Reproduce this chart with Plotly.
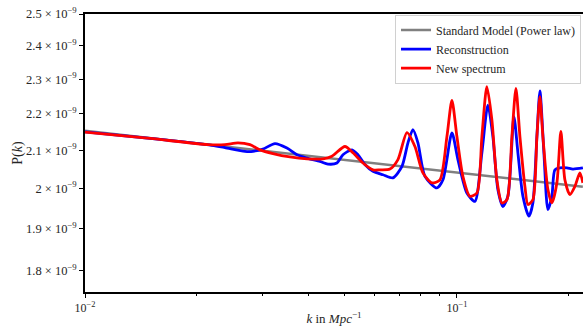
import plotly.graph_objects as go

# Data (P in units of 1e-9)
k_blue = [0.0100, 0.01495, 0.02195, 0.02378, 0.02692, 0.02829, 0.03009, 0.03242, 0.03491, 0.03715,
          0.03952, 0.04282, 0.04500, 0.04758, 0.04938, 0.05221, 0.05418, 0.05658, 0.05946, 0.06325,
          0.06730, 0.07115, 0.07385, 0.07616, 0.07856, 0.08204, 0.08837, 0.09172, 0.09696, 0.10062,
          0.10638, 0.11177, 0.11672, 0.12113, 0.12494, 0.12885, 0.13295, 0.13712, 0.14231, 0.14588,
          0.15046, 0.15615, 0.16005, 0.16408, 0.16715, 0.17135, 0.17564, 0.18004, 0.18340, 0.18916,
          0.19756, 0.20502, 0.21813]
p_blue = [2.150, 2.132, 2.113, 2.107, 2.097, 2.097, 2.103, 2.118, 2.106, 2.088,
          2.079, 2.070, 2.063, 2.066, 2.088, 2.101, 2.088, 2.062, 2.044, 2.035,
          2.027, 2.057, 2.120, 2.156, 2.120, 2.031, 2.001, 2.022, 2.147, 2.075,
          1.988, 1.967, 2.093, 2.225, 2.137, 1.997, 1.954, 1.980, 2.192, 2.093,
          1.980, 1.930, 1.963, 2.137, 2.266, 2.093, 1.946, 1.980, 2.048, 2.053,
          2.053, 2.050, 2.053]

k_red = [0.0100, 0.01495, 0.02141, 0.02378, 0.02578, 0.02777, 0.02954, 0.03202, 0.03557, 0.03952,
         0.04363, 0.04613, 0.05000, 0.05253, 0.05589, 0.05946, 0.06209, 0.06605, 0.06941, 0.07339,
         0.07711, 0.08103, 0.08567, 0.09003, 0.09400, 0.09696, 0.10000, 0.10377, 0.10837, 0.11317,
         0.11672, 0.12038, 0.12417, 0.12805, 0.13213, 0.13628, 0.14055, 0.14409, 0.14770, 0.15234,
         0.15520, 0.16005, 0.16408, 0.16715, 0.17029, 0.17564, 0.18004, 0.18569, 0.19034, 0.19511,
         0.20126, 0.20758, 0.21410, 0.21813]
p_red = [2.149, 2.132, 2.115, 2.115, 2.120, 2.115, 2.101, 2.091, 2.082, 2.077,
         2.077, 2.084, 2.110, 2.093, 2.066, 2.048, 2.048, 2.050, 2.075, 2.148,
         2.110, 2.040, 2.014, 2.022, 2.137, 2.238, 2.137, 2.031, 1.980, 1.988,
         2.137, 2.278, 2.183, 2.022, 1.963, 1.971, 2.137, 2.273, 2.137, 2.005,
         1.959, 1.971, 2.137, 2.249, 2.137, 1.997, 1.963, 2.014, 2.151, 2.022,
         1.984, 2.005, 2.040, 2.014]

k_std = [0.0100, 0.2181]
p_std = [2.153, 2.004]

y_ticks = [1.8, 1.9, 2.0, 2.1, 2.2, 2.3, 2.4, 2.5]
y_ticklabels = ["1.8 × 10<sup>−9</sup>", "1.9 × 10<sup>−9</sup>", "2 × 10<sup>−9</sup>",
                "2.1 × 10<sup>−9</sup>", "2.2 × 10<sup>−9</sup>", "2.3 × 10<sup>−9</sup>",
                "2.4 × 10<sup>−9</sup>", "2.5 × 10<sup>−9</sup>"]
x_ticks = [0.01, 0.1]
x_ticklabels = ["10<sup>−2</sup>", "10<sup>−1</sup>"]
x_minor = [0.02, 0.03, 0.04, 0.05, 0.06, 0.07, 0.08, 0.09, 0.2]

scale = 1e-9
font_family = "Liberation Serif, DejaVu Serif, serif"

fig = go.Figure()
fig.add_trace(go.Scatter(x=k_std, y=[v * scale for v in p_std], mode="lines",
                         line=dict(color="#808080", width=2.5), name="Standard Model (Power law)"))
fig.add_trace(go.Scatter(x=k_blue, y=[v * scale for v in p_blue], mode="lines",
                         line=dict(color="#0000ff", width=2.8, shape="spline", smoothing=0.7),
                         name="Reconstruction"))
fig.add_trace(go.Scatter(x=k_red, y=[v * scale for v in p_red], mode="lines",
                         line=dict(color="#ff0000", width=2.8, shape="spline", smoothing=0.7),
                         name="New spectrum"))

fig.update_layout(
    width=583, height=326,
    margin=dict(l=85, r=0, t=14, b=34, autoexpand=False),
    paper_bgcolor="white", plot_bgcolor="white",
    font=dict(family=font_family, size=12, color="#262626"),
    showlegend=True,
    legend=dict(x=0.996, y=0.998, xanchor="right", yanchor="top",
                bgcolor="rgba(255,255,255,0.85)", bordercolor="#d0d0d0", borderwidth=1,
                font=dict(size=12, family=font_family, color="#262626"),
                itemwidth=30, tracegroupgap=0),
)
fig.update_xaxes(
    type="log", range=[-2, -0.661], automargin=False,
    tickmode="array", tickvals=x_ticks, ticktext=x_ticklabels,
    ticks="outside", ticklen=4, tickwidth=1, tickcolor="black",
    showline=True, linecolor="black", linewidth=1.5, mirror=True,
    showgrid=False, zeroline=False,
    minor=dict(tickvals=x_minor, ticks="outside", ticklen=2, tickwidth=0.8, tickcolor="black", showgrid=False),
    title=dict(text="<i>k</i> in <i>Mpc</i><sup>−1</sup>", font=dict(size=13), standoff=2),
    tickfont=dict(size=12),
)
fig.update_yaxes(
    type="log", range=[-8.7566, -8.60206], automargin=False,
    tickmode="array", tickvals=[v * scale for v in y_ticks], ticktext=y_ticklabels,
    ticks="outside", ticklen=4, tickwidth=1, tickcolor="black",
    showline=True, linecolor="black", linewidth=1.5,
    showgrid=False, zeroline=False,
    title=dict(text="P(<i>k</i>)", font=dict(size=14), standoff=0),
    tickfont=dict(size=12.5),
)

fig.write_html("out.html", config={"displayModeBar": False},
               post_script="document.body.style.margin='0';document.body.style.padding='0';")
